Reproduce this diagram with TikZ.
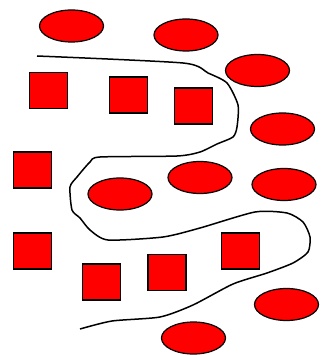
\documentclass[tikz,border=0pt]{standalone}
\usetikzlibrary{shapes.geometric}
\begin{document}
\begin{tikzpicture}[x=1pt,y=-1pt,
  oval/.style={ellipse,draw=black,fill=red,line width=1.2pt,minimum width=64pt,minimum height=32pt,inner sep=0pt},
  sq/.style={rectangle,draw=black,fill=red,line width=1.2pt,minimum width=38pt,minimum height=36pt,inner sep=0pt},
  border/.style={draw=black,line width=1.5pt}]
\useasboundingbox (0,0) rectangle (322,355);
\node[oval] (e1) at (71.5,26) {};
\node[oval] (e2) at (186,35) {};
\node[oval] (e3) at (257.5,70.5) {};
\node[oval] (e4) at (282.5,129) {};
\node[oval] (e5) at (200,177.5) {};
\node[oval] (e6) at (284,184.5) {};
\node[oval] (e7) at (120,194) {};
\node[oval] (e8) at (286.5,304.5) {};
\node[oval] (e9) at (193.5,338) {};
\node[sq] (s1) at (48.5,90.5) {};
\node[sq] (s2) at (128.5,95) {};
\node[sq] (s3) at (193.5,106) {};
\node[sq] (s4) at (32.5,170) {};
\node[sq] (s5) at (32.5,251) {};
\node[sq] (s6) at (101.5,282) {};
\node[sq] (s7) at (167,272.5) {};
\node[sq] (s8) at (240.5,251) {};
\draw[border] plot[smooth,tension=0.4] coordinates {
 (37,56) (183,63) (208,73) (227,83) (238,105) (237,127) (233,137) (217,144)
 (200,152) (177,156) (100,157) (90,162) (77,177) (70,187) (72,210) (80,218)
 (90,230) (108,240) (163,237) (200,228) (255,212) (287,213) (303,222)
 (310,237) (308,252) (293,263) (267,273) (233,284) (193,305) (160,317)
 (112,321) (80,329)};
\end{tikzpicture}
\end{document}
